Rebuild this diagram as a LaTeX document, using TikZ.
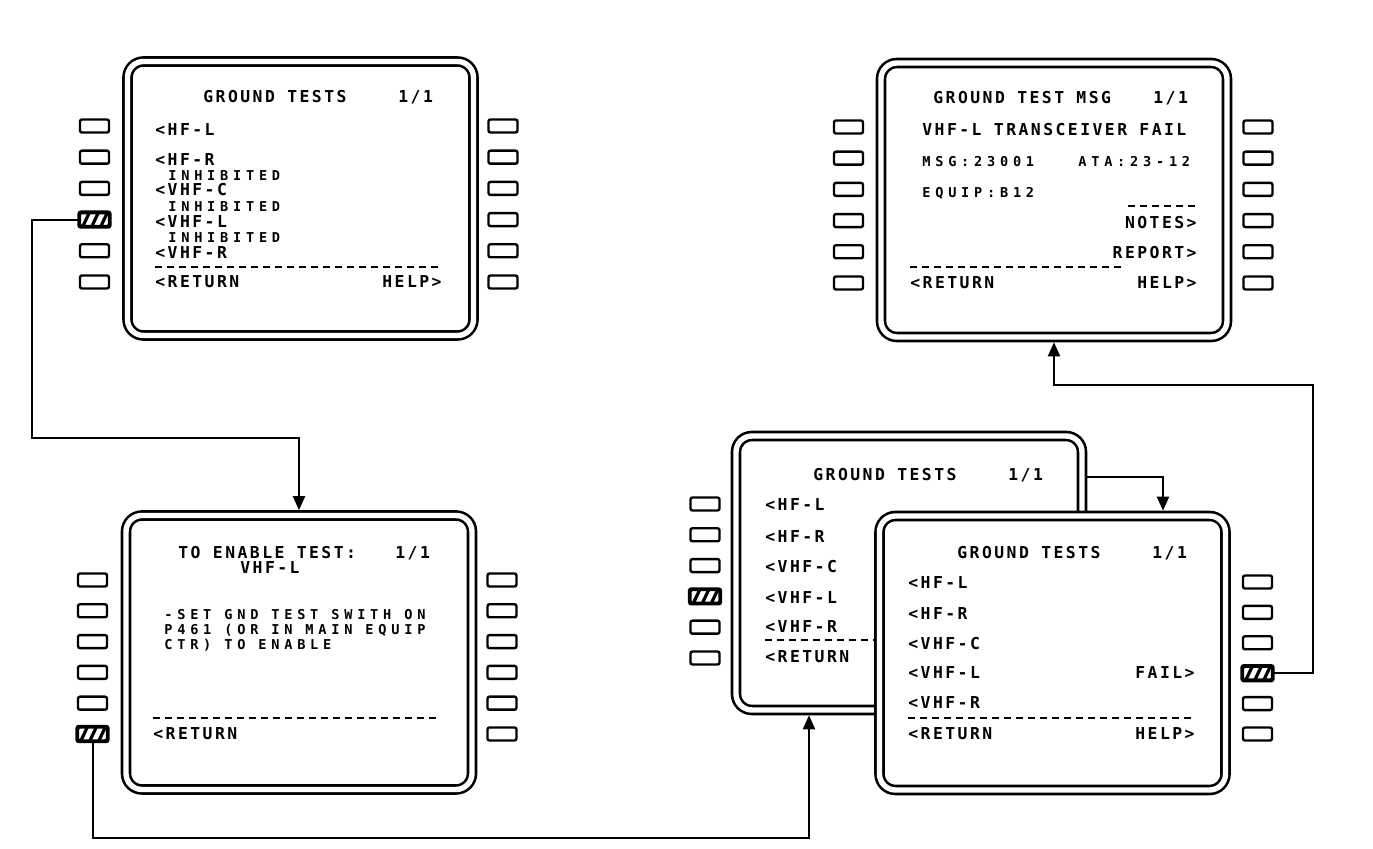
\documentclass[tikz,border=0pt]{standalone}
\usepackage{fontspec}
\usetikzlibrary{arrows.meta}
\newfontfamily\cdufamA{DejaVu Sans Mono}[LetterSpace=15]
\newfontfamily\cdufamB{DejaVu Sans Mono}[LetterSpace=35]
\newcommand\cduA{\cdufamA\bfseries\fontsize{8.2pt}{9pt}\selectfont}
\newcommand\cduB{\cdufamB\bfseries\fontsize{6.8pt}{7.5pt}\selectfont}
\tikzset{
  scr/.style={draw, line width=1.3pt, double=white, double distance=2.7pt,
    rounded corners=8pt, minimum width=173pt, minimum height=137pt,
    inner sep=0pt, fill=white},
  btn/.style={draw, line width=1.2pt, rounded corners=1pt, minimum width=14.5pt,
    minimum height=6.5pt, inner sep=0pt, fill=white},
  lt/.style={anchor=base west, inner sep=0pt, font=\cduA},
  rt/.style={anchor=base east, inner sep=0pt, font=\cduA},
  sm/.style={anchor=base west, inner sep=0pt, font=\cduB},
  dl/.style={line width=1.3pt, dash pattern=on 3.5pt off 2.5pt},
  conn/.style={line width=1pt},
  arr/.style={conn, -{Triangle[length=7pt,width=6pt]}, shorten >=2pt},
}
\newcommand\hbtn[3]{%
  \node[btn] (#1) at (#2,#3) {};
  \begin{scope}
    \clip[rounded corners=1pt] (#1.south west) rectangle (#1.north east);
    \foreach \k in {-6.5,-2,2.5}
      \draw[line width=1.6pt] ([xshift=\k pt, yshift=-1pt]#1.south) -- ++(4pt,8.5pt);
  \end{scope}
  \draw[line width=1.4pt, rounded corners=1pt] (#1.south west) rectangle (#1.north east);
}
\begin{document}
\begin{tikzpicture}[x=0.5pt, y=-0.5pt]
\useasboundingbox (0,0) rectangle (1373,849);

% ---------- top-left screen ----------
\node[scr] (tl) at (300.5,198.5) {};
\node[lt] (tl1) at (203,103) {GROUND TESTS};
\node[lt] (tl2) at (398,103) {1/1};
\node[lt] (tl3) at (155,136) {<HF-L};
\node[lt] (tl4) at (155,166) {<HF-R};
\node[sm] (tl5) at (168,181) {INHIBITED};
\node[lt] (tl6) at (155,196) {<VHF-C};
\node[sm] (tl7) at (168,212) {INHIBITED};
\node[lt] (tl8) at (155,228) {<VHF-L};
\node[sm] (tl9) at (168,243) {INHIBITED};
\node[lt] (tl10) at (155,259) {<VHF-R};
\draw[dl] (155,267) -- (442,267);
\node[lt] (tl11) at (155,288) {<RETURN};
\node[rt] (tl12) at (442,288) {HELP>};

% ---------- top-right screen ----------
\node[scr] (tr) at (1054,200) {};
\node[lt] (tr1) at (933,104) {GROUND TEST MSG};
\node[lt] (tr2) at (1153,104) {1/1};
\node[lt] (tr3) at (922,136) {VHF-L TRANSCEIVER FAIL};
\node[sm] (tr4) at (922,167) {MSG:23001};
\node[sm] (tr5) at (1078,167) {ATA:23-12};
\node[sm] (tr6) at (922,198) {EQUIP:B12};
\draw[dl] (1128,206) -- (1197,206);
\node[rt] (tr7) at (1197,229) {NOTES>};
\node[rt] (tr8) at (1197,259) {REPORT>};
\draw[dl] (910,267) -- (1123,267);
\node[lt] (tr9) at (910,289) {<RETURN};
\node[rt] (tr10) at (1197,289) {HELP>};

% ---------- bottom-left screen ----------
\node[scr] (bl) at (299,652.5) {};
\node[lt] (bl1) at (178,559) {TO ENABLE TEST:};
\node[lt] (bl2) at (395,559) {1/1};
\node[lt] (bl3) at (240,574) {VHF-L};
\node[sm] (bl4) at (164,620) {-SET GND TEST SWITH ON};
\node[sm] (bl5) at (164,635) {P461 (OR IN MAIN EQUIP};
\node[sm] (bl6) at (164,650) {CTR) TO ENABLE};
\draw[dl] (153,718) -- (440,718);
\node[lt] (bl7) at (153,740) {<RETURN};

% ---------- back screen (bottom right) ----------
\node[scr] (bk) at (909,573) {};
\node[lt] (bk1) at (813,481) {GROUND TESTS};
\node[lt] (bk2) at (1008,481) {1/1};
\node[lt] (bk3) at (765,511) {<HF-L};
\node[lt] (bk4) at (765,543) {<HF-R};
\node[lt] (bk5) at (765,573) {<VHF-C};
\node[lt] (bk6) at (765,604) {<VHF-L};
\node[lt] (bk7) at (765,633) {<VHF-R};
\draw[dl] (765,640) -- (1000,640);
\node[lt] (bk8) at (765,663) {<RETURN};

% ---------- front screen (bottom right) ----------
\node[scr] (fr) at (1052.5,653) {};
\node[lt] (fr1) at (957,559) {GROUND TESTS};
\node[lt] (fr2) at (1152,559) {1/1};
\node[lt] (fr3) at (908,589) {<HF-L};
\node[lt] (fr4) at (908,620) {<HF-R};
\node[lt] (fr5) at (908,650) {<VHF-C};
\node[lt] (fr6) at (908,679) {<VHF-L};
\node[rt] (fr7) at (1195,679) {FAIL>};
\node[lt] (fr8) at (908,709) {<VHF-R};
\draw[dl] (908,718) -- (1195,718);
\node[lt] (fr9) at (908,740) {<RETURN};
\node[rt] (fr10) at (1195,740) {HELP>};

% ---------- buttons ----------
% top-left
\node[btn] (tla1) at (94.5,126) {};
\node[btn] (tla2) at (94.5,157.2) {};
\node[btn] (tla3) at (94.5,188.4) {};
\hbtn{tla4}{94.5}{219.6}
\node[btn] (tla5) at (94.5,250.8) {};
\node[btn] (tla6) at (94.5,282) {};
\foreach \i/\y in {1/126,2/157.2,3/188.4,4/219.6,5/250.8,6/282}
  \node[btn] (tlb\i) at (503,\y) {};
% top-right
\foreach \i/\y in {1/127,2/158.2,3/189.4,4/220.6,5/251.8,6/283}{
  \node[btn] (tra\i) at (848.5,\y) {};
  \node[btn] (trb\i) at (1258,\y) {};
}
% bottom-left
\foreach \i/\y in {1/580,2/610.8,3/641.6,4/672.4,5/703.2}
  \node[btn] (bla\i) at (92.5,\y) {};
\hbtn{bla6}{92.5}{734}
\foreach \i/\y in {1/580,2/610.8,3/641.6,4/672.4,5/703.2,6/734}
  \node[btn] (blb\i) at (502,\y) {};
% back screen (left column)
\foreach \i/\y in {1/504,2/534.8,3/565.6,5/627.2,6/658}
  \node[btn] (bka\i) at (705,\y) {};
\hbtn{bka4}{705}{596.4}
% front screen (right column)
\foreach \i/\y in {1/582,2/612.4,3/642.8,5/703.6,6/734}
  \node[btn] (frb\i) at (1257.5,\y) {};
\hbtn{frb4}{1257.5}{673.2}

% ---------- connectors ----------
\coordinate (k1) at (32,438);
\draw[arr] (tla4.west) -| (k1) -| (bl.north);

\coordinate (k2) at (809,838);
\draw[arr] (bla6.south) |- (k2) -- (k2 |- bk.south);

\coordinate (k3) at (1163,477);
\draw[arr, shorten <=2pt] (bk.east |- k3) -- (k3) -- (k3 |- fr.north);

\coordinate (k4) at (1313,385);
\draw[arr] (frb4.east) -| (k4) -| (tr.south);
\end{tikzpicture}
\end{document}
